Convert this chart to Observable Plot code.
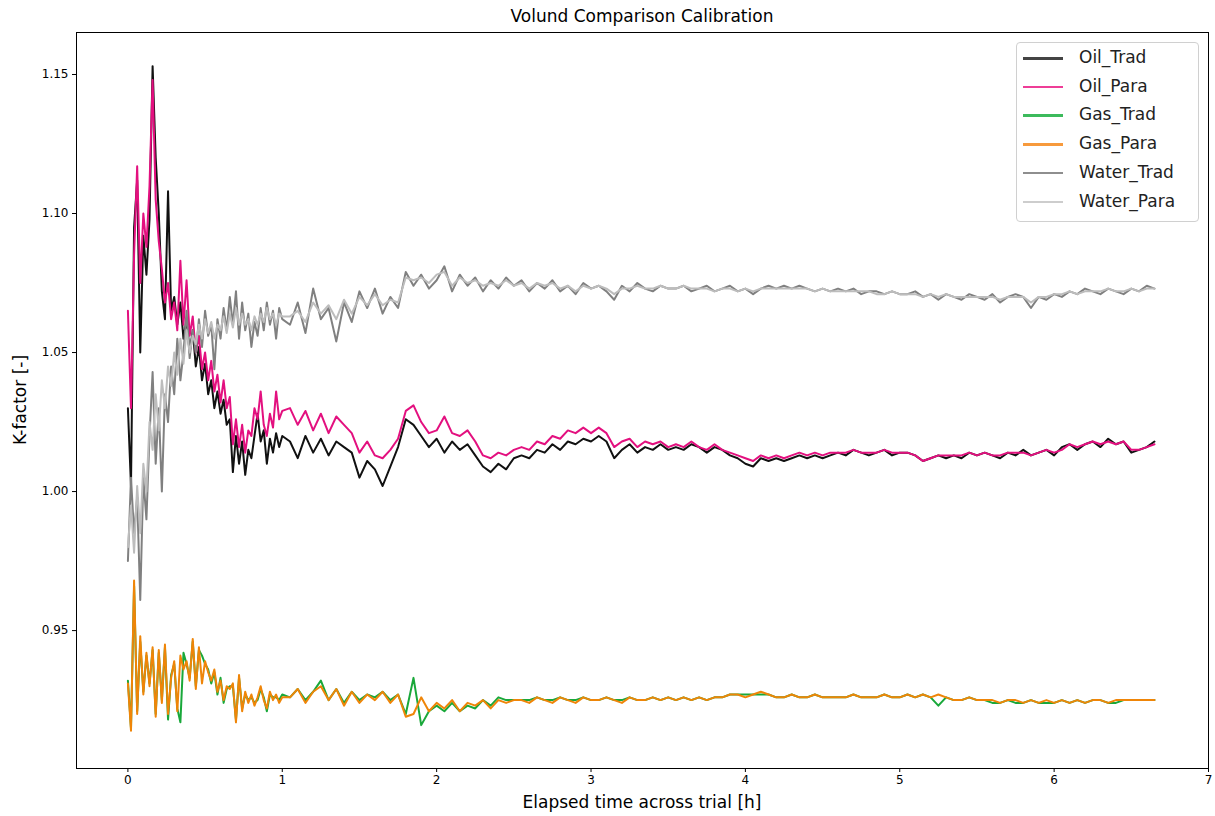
<!DOCTYPE html>
<html><head><meta charset="utf-8">
<script src="https://cdn.jsdelivr.net/npm/d3@7"></script>
<script src="https://cdn.jsdelivr.net/npm/@observablehq/plot@0.6"></script>
<style>
body{margin:0;background:#fff;font-family:"DejaVu Sans",sans-serif;color:#000;}
#wrap{position:relative;width:1215px;height:816px;overflow:hidden;}
#title{height:31px;width:1215px;position:relative;}
#title span{position:absolute;left:76px;width:1132px;top:6px;text-align:center;font-size:17px;}
#xlabel{position:absolute;left:76px;width:1132px;top:792px;text-align:center;font-size:17px;}
#ylabel{position:absolute;left:20px;top:400px;font-size:17px;transform:translate(-50%,-50%) rotate(-90deg);white-space:nowrap;}
#legend{position:absolute;left:1016px;top:42px;width:181px;height:178px;border:1px solid #d0d0d0;border-radius:4px;background:rgba(255,255,255,0.8);}
.li{position:absolute;left:0;height:20px;width:181px;}
.li i{position:absolute;left:6px;top:9px;width:40px;height:2.5px;}
.li span{position:absolute;left:62px;top:-1px;font-size:17px;line-height:20px;color:#222;}
</style></head>
<body>
<div id="wrap">
<div id="title"><span>Volund Comparison Calibration</span></div>
<div id="chart"></div>
<div id="xlabel">Elapsed time across trial [h]</div>
<div id="ylabel">K-factor [-]</div>
<div id="legend"></div>
</div>
<script>
const hours = [
0,0.02,0.04,0.06,0.08,0.1,0.12,0.14,0.16,0.18,
0.2,0.22,0.24,0.26,0.28,0.3,0.32,0.34,0.36,0.38,
0.4,0.42,0.44,0.46,0.48,0.5,0.52,0.54,0.56,0.58,
0.6,0.62,0.64,0.66,0.68,0.7,0.72,0.74,0.76,0.78,
0.8,0.82,0.84,0.86,0.88,0.9,0.92,0.94,0.96,0.98,
1.0,
1.05,1.1,1.15,1.2,1.25,1.3,1.35,1.4,1.45,1.5,
1.55,1.6,1.65,1.7,1.75,1.8,1.85,1.9,1.95,2.0,
2.05,2.1,2.15,2.2,2.25,2.3,2.35,2.4,2.45,2.5,
2.55,2.6,2.65,2.7,2.75,2.8,2.85,2.9,2.95,3.0,
3.05,3.1,3.15,3.2,3.25,3.3,3.35,3.4,3.45,3.5,
3.55,3.6,3.65,3.7,3.75,3.8,3.85,3.9,3.95,4.0,
4.05,4.1,4.15,4.2,4.25,4.3,4.35,4.4,4.45,4.5,
4.55,4.6,4.65,4.7,4.75,4.8,4.85,4.9,4.95,5.0,
5.05,5.1,5.15,5.2,5.25,5.3,5.35,5.4,5.45,5.5,
5.55,5.6,5.65,5.7,5.75,5.8,5.85,5.9,5.95,6.0,
6.05,6.1,6.15,6.2,6.25,6.3,6.35,6.4,6.45,6.5,
6.55,6.6,6.65];

const oilTrad = [
1.030,1.002,1.095,1.112,1.050,1.092,1.078,1.098,1.153,1.120,
1.100,1.072,1.062,1.108,1.065,1.070,1.060,1.068,1.055,1.062,
1.050,1.058,1.045,1.052,1.040,1.046,1.035,1.040,1.030,1.036,
1.028,1.033,1.024,1.026,1.007,1.020,1.010,1.018,1.006,1.015,
1.012,1.020,1.028,1.018,1.022,1.010,1.019,1.014,1.021,1.016,
1.020,
1.018,1.012,1.020,1.014,1.019,1.013,1.018,1.016,1.014,1.005,
1.011,1.008,1.002,1.009,1.016,1.026,1.024,1.020,1.016,1.019,
1.014,1.018,1.015,1.017,1.013,1.009,1.007,1.010,1.008,1.012,
1.013,1.012,1.015,1.014,1.017,1.015,1.018,1.017,1.019,1.018,
1.020,1.018,1.012,1.015,1.017,1.014,1.016,1.015,1.017,1.015,
1.016,1.015,1.017,1.016,1.014,1.016,1.015,1.013,1.012,1.010,
1.009,1.012,1.011,1.012,1.011,1.012,1.013,1.012,1.013,1.012,
1.013,1.014,1.013,1.015,1.014,1.013,1.014,1.015,1.013,1.014,
1.014,1.013,1.011,1.012,1.013,1.012,1.013,1.012,1.014,1.013,
1.014,1.013,1.012,1.014,1.013,1.015,1.013,1.014,1.015,1.013,
1.016,1.017,1.015,1.017,1.018,1.016,1.019,1.017,1.018,1.014,
1.015,1.016,1.018];

const oilPara = [
1.065,1.030,1.085,1.117,1.075,1.100,1.088,1.110,1.148,1.105,
1.090,1.080,1.068,1.075,1.062,1.068,1.058,1.083,1.060,1.076,
1.056,1.063,1.050,1.056,1.044,1.050,1.040,1.047,1.036,1.042,
1.032,1.040,1.030,1.034,1.017,1.026,1.016,1.024,1.014,1.022,
1.020,1.030,1.026,1.036,1.024,1.020,1.028,1.023,1.036,1.026,
1.029,
1.030,1.024,1.029,1.022,1.028,1.021,1.027,1.024,1.021,1.014,
1.018,1.013,1.012,1.015,1.019,1.029,1.031,1.025,1.021,1.022,
1.027,1.021,1.020,1.022,1.018,1.013,1.012,1.014,1.013,1.015,
1.016,1.015,1.018,1.017,1.020,1.019,1.022,1.021,1.023,1.021,
1.023,1.021,1.016,1.018,1.019,1.016,1.018,1.017,1.018,1.016,
1.017,1.016,1.018,1.016,1.015,1.017,1.015,1.014,1.013,1.012,
1.011,1.013,1.012,1.013,1.012,1.013,1.014,1.013,1.014,1.013,
1.014,1.014,1.014,1.015,1.014,1.014,1.014,1.015,1.014,1.014,
1.014,1.013,1.011,1.012,1.013,1.013,1.013,1.013,1.014,1.013,
1.014,1.013,1.013,1.014,1.014,1.014,1.013,1.014,1.015,1.014,
1.015,1.017,1.016,1.017,1.018,1.017,1.018,1.017,1.018,1.015,
1.015,1.016,1.017];

const gasTrad = [
0.932,0.915,0.966,0.921,0.946,0.928,0.941,0.931,0.943,0.920,
0.942,0.925,0.944,0.918,0.934,0.938,0.922,0.917,0.942,0.938,
0.933,0.946,0.930,0.943,0.941,0.938,0.936,0.931,0.935,0.927,
0.933,0.924,0.929,0.930,0.930,0.918,0.933,0.922,0.927,0.925,
0.926,0.924,0.925,0.929,0.926,0.921,0.927,0.926,0.926,0.925,
0.927,
0.926,0.929,0.925,0.928,0.932,0.925,0.929,0.924,0.928,0.925,
0.927,0.926,0.928,0.925,0.927,0.920,0.933,0.916,0.921,0.923,
0.921,0.924,0.921,0.923,0.922,0.925,0.923,0.926,0.925,0.925,
0.925,0.925,0.926,0.925,0.925,0.926,0.925,0.925,0.926,0.925,
0.925,0.926,0.925,0.925,0.926,0.925,0.925,0.926,0.925,0.926,
0.925,0.926,0.925,0.926,0.925,0.926,0.926,0.927,0.927,0.927,
0.927,0.927,0.927,0.926,0.926,0.927,0.926,0.926,0.927,0.926,
0.926,0.926,0.926,0.927,0.926,0.926,0.926,0.927,0.926,0.926,
0.927,0.926,0.927,0.926,0.923,0.926,0.925,0.925,0.926,0.925,
0.925,0.924,0.924,0.925,0.924,0.924,0.925,0.924,0.924,0.924,
0.925,0.924,0.925,0.924,0.925,0.925,0.924,0.924,0.925,0.925,
0.925,0.925,0.925];

const gasPara = [
0.931,0.914,0.968,0.920,0.948,0.927,0.942,0.930,0.944,0.919,
0.943,0.924,0.945,0.920,0.933,0.939,0.921,0.941,0.936,0.939,
0.932,0.947,0.929,0.944,0.931,0.939,0.935,0.932,0.936,0.928,
0.932,0.925,0.930,0.929,0.931,0.917,0.934,0.921,0.928,0.924,
0.927,0.923,0.926,0.930,0.925,0.922,0.928,0.925,0.927,0.924,
0.926,
0.926,0.929,0.924,0.928,0.930,0.925,0.929,0.923,0.928,0.924,
0.927,0.925,0.928,0.924,0.927,0.919,0.920,0.926,0.921,0.924,
0.922,0.925,0.921,0.924,0.923,0.925,0.922,0.925,0.924,0.925,
0.925,0.924,0.926,0.925,0.924,0.926,0.925,0.924,0.926,0.925,
0.925,0.926,0.925,0.924,0.926,0.925,0.925,0.926,0.925,0.926,
0.925,0.926,0.925,0.926,0.925,0.926,0.926,0.927,0.927,0.926,
0.927,0.928,0.927,0.926,0.926,0.927,0.926,0.926,0.927,0.926,
0.926,0.926,0.926,0.927,0.926,0.926,0.926,0.927,0.926,0.926,
0.927,0.926,0.927,0.926,0.927,0.926,0.925,0.925,0.926,0.925,
0.925,0.925,0.924,0.925,0.925,0.924,0.925,0.924,0.925,0.924,
0.925,0.924,0.925,0.924,0.925,0.925,0.924,0.925,0.925,0.925,
0.925,0.925,0.925];

const waterTrad = [
0.975,1.005,0.985,0.998,0.961,1.005,0.990,1.020,1.043,1.010,
1.030,1.000,1.035,1.025,1.045,1.035,1.055,1.040,1.050,1.065,
1.048,1.058,1.050,1.062,1.052,1.065,1.056,1.060,1.044,1.062,
1.055,1.066,1.058,1.070,1.060,1.072,1.055,1.068,1.058,1.064,
1.052,1.061,1.056,1.066,1.058,1.068,1.060,1.065,1.055,1.066,
1.062,
1.060,1.068,1.057,1.073,1.062,1.066,1.054,1.068,1.061,1.072,
1.066,1.073,1.064,1.070,1.066,1.079,1.074,1.078,1.073,1.076,
1.081,1.072,1.078,1.074,1.077,1.072,1.076,1.073,1.077,1.074,
1.076,1.072,1.075,1.073,1.076,1.072,1.074,1.071,1.075,1.073,
1.074,1.072,1.069,1.074,1.072,1.075,1.073,1.072,1.074,1.073,
1.073,1.074,1.072,1.073,1.074,1.072,1.073,1.074,1.072,1.073,
1.071,1.073,1.074,1.073,1.074,1.073,1.074,1.073,1.072,1.073,
1.072,1.073,1.072,1.073,1.071,1.072,1.072,1.071,1.072,1.071,
1.071,1.072,1.070,1.071,1.069,1.071,1.070,1.069,1.071,1.070,
1.069,1.071,1.068,1.070,1.071,1.070,1.066,1.070,1.069,1.071,
1.070,1.072,1.071,1.073,1.072,1.071,1.073,1.072,1.071,1.073,
1.072,1.074,1.073];

const waterPara = [
0.980,0.995,0.978,1.002,0.985,1.010,1.000,1.025,1.015,1.035,
1.022,1.040,1.030,1.045,1.038,1.050,1.042,1.055,1.046,1.058,
1.050,1.056,1.053,1.060,1.055,1.062,1.057,1.061,1.055,1.060,
1.058,1.063,1.057,1.064,1.059,1.066,1.060,1.064,1.060,1.062,
1.058,1.063,1.060,1.064,1.061,1.066,1.062,1.064,1.060,1.064,
1.063,
1.063,1.065,1.061,1.068,1.064,1.067,1.062,1.069,1.064,1.070,
1.067,1.071,1.067,1.069,1.068,1.077,1.076,1.077,1.075,1.078,
1.079,1.074,1.077,1.075,1.076,1.074,1.075,1.074,1.076,1.074,
1.075,1.073,1.075,1.074,1.075,1.073,1.074,1.072,1.074,1.073,
1.074,1.073,1.071,1.073,1.073,1.074,1.073,1.073,1.074,1.073,
1.073,1.074,1.073,1.073,1.073,1.072,1.073,1.073,1.072,1.073,
1.072,1.073,1.073,1.073,1.073,1.073,1.073,1.073,1.072,1.073,
1.072,1.072,1.072,1.072,1.072,1.072,1.071,1.071,1.072,1.071,
1.071,1.071,1.070,1.071,1.070,1.071,1.070,1.070,1.070,1.070,
1.070,1.070,1.069,1.070,1.070,1.070,1.068,1.070,1.070,1.071,
1.071,1.072,1.071,1.072,1.072,1.072,1.073,1.072,1.072,1.073,
1.072,1.073,1.073];

const seriesNames = ["Oil_Trad","Oil_Para","Gas_Trad","Gas_Para","Water_Trad","Water_Para"];
const seriesValues = [oilTrad, oilPara, gasTrad, gasPara, waterTrad, waterPara];
const lineColors = ["#111111","#e3107f","#19a83a","#ef8508","#808080","#bdbdbd"];
const legendColors = ["#444444","#ee3d97","#3cba5c","#f79a3c","#8e8e8e","#cdcdcd"];
const xTicks = [0,1,2,3,4,5,6,7];
const yTicks = [0.95,1.00,1.05,1.10,1.15];

const rows = [];
seriesNames.forEach((name, si) => {
  hours.forEach((h, i) => rows.push({series: name, hours: h, value: seriesValues[si][i]}));
});

const chart = Plot.plot({
  width: 1215, height: 785,
  marginLeft: 76, marginRight: 7, marginTop: 1, marginBottom: 48,
  x: {domain: [-0.333, 7], label: null},
  y: {domain: [0.9004, 1.1651], label: null},
  style: {fontFamily: "DejaVu Sans", fontSize: "12px", color: "#000", background: "#fff"},
  marks: [
    ...seriesNames.map((name, si) =>
      Plot.lineY(rows.filter(d => d.series === name), {x: "hours", y: "value", stroke: lineColors[si], strokeWidth: 2})),
    Plot.frame({stroke: "#000", strokeWidth: 1}),
    Plot.axisX({ticks: xTicks, tickSize: 4, tickPadding: 3, label: null, fontSize: 12}),
    Plot.axisY({ticks: yTicks, tickSize: 4, tickPadding: 4, tickFormat: d3.format(".2f"), label: null, fontSize: 12})
  ]
});
document.getElementById("chart").appendChild(chart);

const legend = document.getElementById("legend");
seriesNames.forEach((name, i) => {
  const row = document.createElement("div");
  row.className = "li";
  row.style.top = (5 + i * 28.7) + "px";
  const sw = document.createElement("i");
  sw.style.background = legendColors[i];
  const tx = document.createElement("span");
  tx.textContent = name;
  row.appendChild(sw); row.appendChild(tx);
  legend.appendChild(row);
});
</script>
</body></html>
